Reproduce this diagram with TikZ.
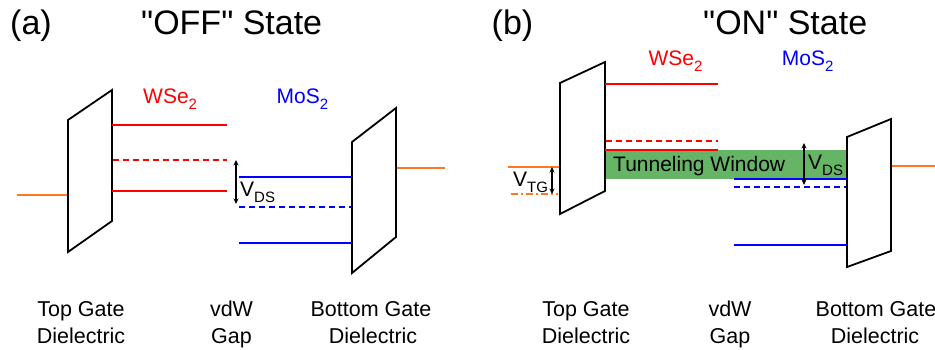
\documentclass[tikz,border=0pt]{standalone}
\usepackage{fontspec}
\setmainfont{Liberation Sans}
\newfontfamily\tfont{Liberation Sans}
\usetikzlibrary{arrows.meta}
\definecolor{myred}{RGB}{255,0,0}
\definecolor{myblue}{RGB}{0,0,255}
\definecolor{myorange}{RGB}{255,120,30}
\definecolor{mygreen}{RGB}{102,180,102}
\newcommand{\sbx}[1]{\raisebox{-0.28em}{\fontsize{15}{15}\selectfont #1}}
\begin{document}
\begin{tikzpicture}[x=1pt,y=-1pt,
  plate/.style={draw=black,line width=1.8pt,line join=miter,fill=white},
  wlev/.style={draw=myred,line width=1.8pt},
  mlev/.style={draw=myblue,line width=1.8pt},
  dlev/.style={dash pattern=on 6pt off 4pt},
  gate/.style={draw=myorange,line width=1.9pt},
  dim/.style={draw=black,line width=1.3pt,{Stealth[length=5.5pt,width=5pt]}-{Stealth[length=5.5pt,width=5pt]}},
  title/.style={inner sep=0pt,anchor=base west,font=\tfont\fontsize{34}{40}\selectfont},
  lbl/.style={inner sep=0pt,anchor=base,font=\fontsize{21.5}{26}\selectfont},
  txt/.style={inner sep=0pt,anchor=base west,font=\fontsize{21}{25}\selectfont}]
\useasboundingbox (0,0) rectangle (935,350);

% ---------- titles ----------
\node[title] (ta) at (10,35) {(a)};
\node[title] (toff) at (141,35) {"OFF" State};
\node[title] (tb) at (491.5,35) {(b)};
\node[title] (ton) at (703,35) {"ON" State};

% ---------- panel (a) ----------
\coordinate (aL1) at (68,120); \coordinate (aL2) at (112,90);
\coordinate (aL3) at (112,221); \coordinate (aL4) at (68,252);
\coordinate (aR1) at (352,142); \coordinate (aR2) at (396,108);
\coordinate (aR3) at (396,237); \coordinate (aR4) at (352,273);
\coordinate (agl0) at (17,195); \coordinate (agl1) at (68,195);
\coordinate (agr0) at (396,168); \coordinate (agr1) at (445,168);
\draw[gate] (agl0) -- (agl1);
\draw[gate] (agr0) -- (agr1);
\draw[plate] (aL1) -- (aL2) -- (aL3) -- (aL4) -- cycle;
\draw[plate] (aR1) -- (aR2) -- (aR3) -- (aR4) -- cycle;

\coordinate (aw1a) at (112,125); \coordinate (aw1b) at (227,125);
\coordinate (aw2a) at (113,160); \coordinate (aw2b) at (227,160);
\coordinate (aw3a) at (112,191); \coordinate (aw3b) at (227,191);
\draw[wlev] (aw1a) -- (aw1b);
\draw[wlev,dlev] (aw2a) -- (aw2b);
\draw[wlev] (aw3a) -- (aw3b);

\coordinate (am1a) at (239,177); \coordinate (am1b) at (352,177);
\coordinate (am2a) at (239,207); \coordinate (am2b) at (351,207);
\coordinate (am3a) at (239,243); \coordinate (am3b) at (352,243);
\draw[mlev] (am1a) -- (am1b);
\draw[mlev,dlev] (am2a) -- (am2b);
\draw[mlev] (am3a) -- (am3b);

\coordinate (avd0) at (236,160); \coordinate (avd1) at (236,204);
\draw[dim] (avd0) -- (avd1);
\node[txt] (avds) at (240,196.5) {V\sbx{DS}};
\node[txt,text=myred] (awse) at (143,103.3) {WSe\sbx{2}};
\node[txt,text=myblue] (amos) at (276.5,103.3) {MoS\sbx{2}};

\node[lbl] (atg1) at (81,316.7) {Top Gate};
\node[lbl] (atg2) at (81,343.3) {Dielectric};
\node[lbl] (avw1) at (231.5,316.7) {vdW};
\node[lbl] (avw2) at (231.5,343.3) {Gap};
\node[lbl] (abg1) at (371,316.7) {Bottom Gate};
\node[lbl] (abg2) at (373,343.3) {Dielectric};

% ---------- panel (b) ----------
\coordinate (bL1) at (560,83); \coordinate (bL2) at (605,62);
\coordinate (bL3) at (605,191); \coordinate (bL4) at (560,214);
\coordinate (bR1) at (847,137); \coordinate (bR2) at (891,119);
\coordinate (bR3) at (891,251); \coordinate (bR4) at (847,267);

\coordinate (gw0) at (605,150); \coordinate (gw1) at (847,179);
\fill[mygreen] (gw0) rectangle (gw1);

\coordinate (bgl0) at (508,167); \coordinate (bgl1) at (560,167);
\coordinate (bgd0) at (511,194); \coordinate (bgd1) at (558,194);
\coordinate (bgr0) at (891,166); \coordinate (bgr1) at (935,166);
\draw[gate] (bgl0) -- (bgl1);
\draw[gate,dash pattern=on 7pt off 3pt on 2pt off 3pt] (bgd0) -- (bgd1);
\draw[gate] (bgr0) -- (bgr1);
\draw[plate] (bL1) -- (bL2) -- (bL3) -- (bL4) -- cycle;
\draw[plate] (bR1) -- (bR2) -- (bR3) -- (bR4) -- cycle;

\coordinate (bw1a) at (605,84); \coordinate (bw1b) at (718,84);
\coordinate (bw2a) at (606,141); \coordinate (bw2b) at (718,141);
\coordinate (bw3a) at (605,150); \coordinate (bw3b) at (718,150);
\draw[wlev] (bw1a) -- (bw1b);
\draw[wlev,dlev] (bw2a) -- (bw2b);
\draw[wlev] (bw3a) -- (bw3b);

\coordinate (bm1a) at (734,179); \coordinate (bm1b) at (847,179);
\coordinate (bm2a) at (734,187); \coordinate (bm2b) at (846,187);
\coordinate (bm3a) at (734,245); \coordinate (bm3b) at (847,245);
\draw[mlev] (bm1a) -- (bm1b);
\draw[mlev,dlev] (bm2a) -- (bm2b);
\draw[mlev] (bm3a) -- (bm3b);

\coordinate (bvd0) at (804,143); \coordinate (bvd1) at (804,185);
\draw[dim] (bvd0) -- (bvd1);
\node[txt] (bvds) at (808,170) {V\sbx{DS}};

\coordinate (bvt0) at (552,167); \coordinate (bvt1) at (552,194);
\draw[dim] (bvt0) -- (bvt1);
\node[txt] (bvtg) at (513,186.7) {V\sbx{TG}};

\node[txt] (btw) at (613,171.5) {Tunneling Window};
\node[txt,text=myred] (bwse) at (648.3,66) {WSe\sbx{2}};
\node[txt,text=myblue] (bmos) at (781.7,66) {MoS\sbx{2}};

\node[lbl] (btg1) at (586,316.7) {Top Gate};
\node[lbl] (btg2) at (586,343.3) {Dielectric};
\node[lbl] (bvw1) at (730,316.7) {vdW};
\node[lbl] (bvw2) at (730,343.3) {Gap};
\node[lbl] (bbg1) at (876,316.7) {Bottom Gate};
\node[lbl] (bbg2) at (875,343.3) {Dielectric};
\end{tikzpicture}
\end{document}
